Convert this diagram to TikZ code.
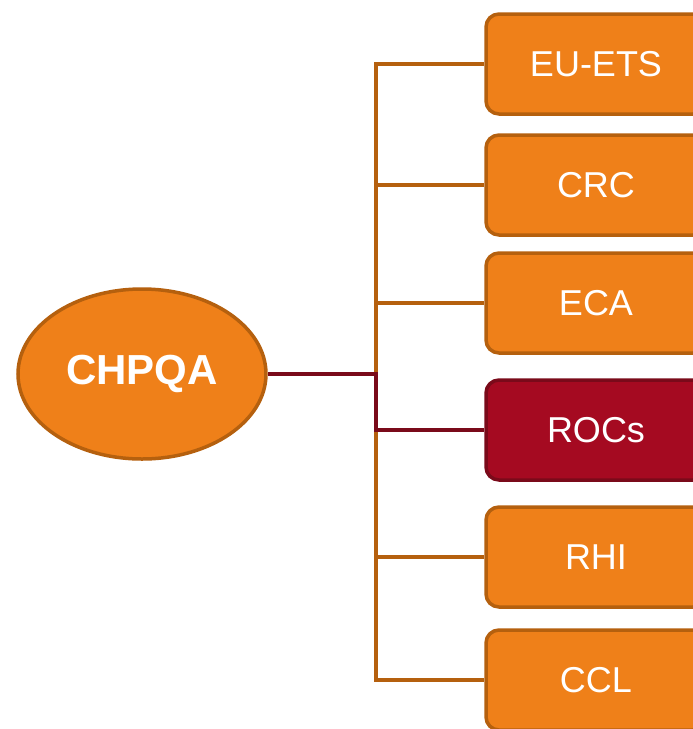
\documentclass[tikz,border=0pt]{standalone}
\usepackage{fontspec}
\setmainfont{Liberation Sans}
\usepackage{tikz}
\usetikzlibrary{shapes.geometric,positioning,calc}
\definecolor{scheme}{HTML}{EF8019}
\definecolor{schemeedge}{HTML}{B5600E}
\definecolor{hotred}{HTML}{A50A21}
\definecolor{hotedge}{HTML}{7A0A1A}

\begin{document}
\begin{tikzpicture}[
  x=1pt, y=-1pt,
  hub/.style={draw=schemeedge, fill=scheme, ellipse, line width=3.5pt, minimum width=248pt, minimum height=170pt, text=white, font=\fontsize{42}{46}\selectfont\bfseries},
  tag/.style={draw=schemeedge, fill=scheme, rounded corners=13pt, line width=3.5pt, minimum width=220pt, minimum height=100pt, text=white, font=\fontsize{36}{40}\selectfont},
  hot/.style={tag, draw=hotedge, fill=hotred},
  branch/.style={draw=schemeedge, line width=3.5pt},
  hotline/.style={draw=hotedge, line width=3.5pt}
]
\useasboundingbox (0,0) rectangle (693,729);

\node[hub] (chpqa) at (142,374) {CHPQA};
\node[tag] (euets) at (596,64) {EU-ETS};
\node[tag] (crc) at (596,185) {CRC};
\node[tag] (eca) at (596,303) {ECA};
\node[hot] (rocs) at (596,430) {ROCs};
\node[tag] (rhi) at (596,557) {RHI};
\node[tag] (ccl) at (596,680) {CCL};

\coordinate (trunk) at (376,374);

% orange tree first, the highlighted route is laid over it
\draw[branch] (euets.west) -| (trunk |- ccl.west) -- (ccl.west);
\foreach \n in {crc,eca,rhi}
  \draw[branch] (\n.west) -- (trunk |- \n.west);
\draw[hotline] (chpqa.east) -| (trunk |- rocs.west) -- (rocs.west);
\end{tikzpicture}
\end{document}
